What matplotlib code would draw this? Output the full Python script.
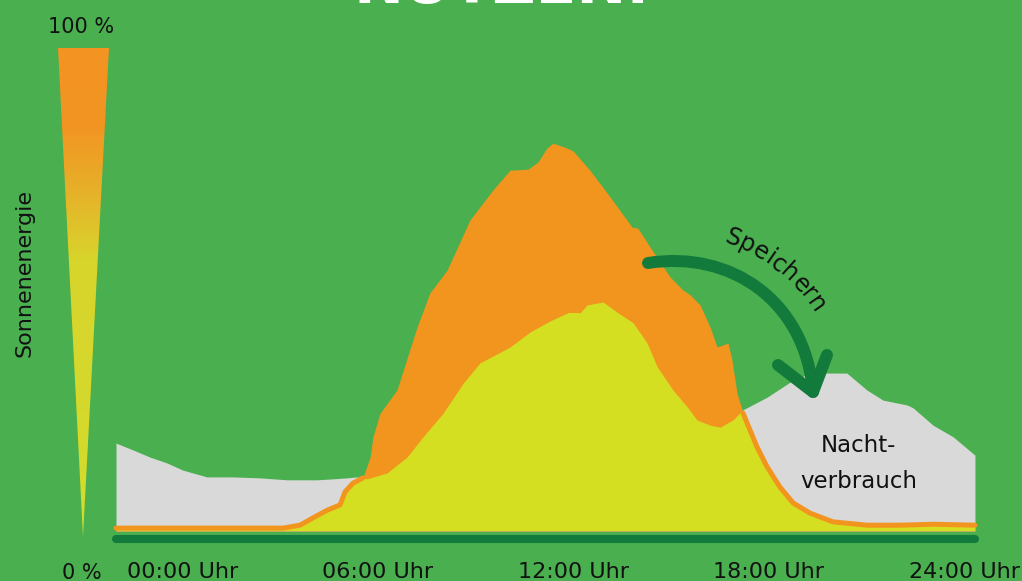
import numpy as np
import matplotlib
matplotlib.use("Agg")
import matplotlib.pyplot as plt
import matplotlib.transforms as mtransforms
from matplotlib.path import Path
from matplotlib.patches import PathPatch, Polygon
from matplotlib.colors import LinearSegmentedColormap
from matplotlib.font_manager import FontProperties

# ---------------- data ----------------
# Household consumption (grey at night, yellow part during the day), hours / %
cons_hours = [0.00, 0.47, 0.95, 1.42, 1.87, 2.35, 2.54, 3.27, 4.02, 4.78, 5.62,
              6.06, 6.45, 6.73, 7.01, 7.57, 8.13, 8.58, 9.14, 9.70, 10.17,
              11.01, 11.57, 12.13, 12.60, 12.96, 13.16, 13.61, 14.00, 14.45,
              14.84, 15.12, 15.56, 15.96, 16.23, 16.60, 16.88, 17.24, 17.52,
              18.19, 18.83, 19.39, 20.42, 20.98, 21.43, 22.10, 22.27, 22.83,
              23.39, 24.00]
consumption = [18.2, 16.8, 15.3, 14.1, 12.6, 11.6, 11.2, 11.2, 11.0, 10.6, 10.6,
               10.8, 11.0, 11.2, 10.8, 12.0, 15.3, 19.5, 24.4, 30.6, 34.8,
               38.1, 41.2, 43.5, 45.1, 45.1, 46.8, 47.4, 45.3, 43.1,
               38.9, 34.0, 29.2, 25.7, 23.0, 21.9, 21.5, 23.0, 25.1,
               27.7, 30.8, 32.7, 32.7, 29.2, 27.1, 26.1, 25.5, 21.9,
               19.5, 15.7]

# Solar production (orange), hours / %
prod_hours = [0.00, 4.67, 5.14, 5.50, 5.90, 6.26, 6.40, 6.62, 6.90, 7.10, 7.18,
              7.32, 7.38, 7.85, 8.41, 8.77, 9.25, 9.89, 10.53, 11.01, 11.51,
              11.79, 12.04, 12.21, 12.60, 12.77, 13.24, 13.80, 14.42, 14.58,
              14.92, 15.48, 15.84, 16.04, 16.32, 16.60, 16.79, 17.10, 17.21,
              17.35, 17.52, 17.63, 17.91, 18.19, 18.55, 18.92, 19.39, 20.03,
              20.98, 21.91, 22.83, 24.00]
production = [0.6, 0.6, 1.2, 2.7, 4.3, 5.4, 8.1, 9.9, 11.0, 15.3, 19.5,
              23.0, 24.4, 29.2, 42.2, 49.3, 54.0, 64.4, 70.6, 74.7, 74.9,
              76.4, 79.3, 80.3, 79.3, 78.7, 74.7, 69.2, 62.9, 62.7,
              58.8, 52.6, 49.9, 48.9, 46.8, 42.2, 38.1, 38.9, 35.4,
              28.6, 24.4, 22.4, 17.4, 13.3, 9.1, 5.8, 3.7, 1.9,
              1.2, 1.2, 1.4, 1.2]

tick_labels = ["00:00 Uhr", "06:00 Uhr", "12:00 Uhr", "18:00 Uhr", "24:00 Uhr"]
scale_labels = ["100 %", "0 %"]
y_title = "Sonnenenergie"
arrow_label = "Speichern"
night_label = ["Nacht-", "verbrauch"]
title = "NUTZEN."

# ---------------- style ----------------
BG = "#49AF4F"
GRAY = "#D9D9D9"
ORANGE = "#F2951F"
YELLOW = "#D5DF22"
DKGREEN = "#127A3B"
TXT = "#111111"
FONT = "DejaVu Sans"

W, H, DPI = 1022, 581, 100
fig = plt.figure(figsize=(W / DPI, H / DPI), dpi=DPI, facecolor=BG)
ax = fig.add_axes([0, 0, 1, 1])
ax.set_facecolor(BG)
ax.axis("off")

# map hours / percent to the picture area
X0, PXH = 116.0, 35.79     # px of 00:00, px per hour
Y0, PXV = 531.0, 4.83      # px of 0 %, px per percent
ax.set_xlim(-X0 / PXH, (W - X0) / PXH)
ax.set_ylim(-(H - Y0) / PXV, Y0 / PXV)

# pixel transform (y downwards) for decorations
pix = mtransforms.Affine2D().scale(1.0 / W, -1.0 / H).translate(0, 1) + fig.transFigure

hc = np.array(cons_hours)
c = np.array(consumption)
hp = np.array(prod_hours)
p = np.array(production)

gray = ax.fill_between(hc, 0, c, color=GRAY, lw=0, zorder=2)
orng = ax.fill_between(hp, 0, p, color=ORANGE, lw=0, zorder=3)
yel = ax.fill_between(hc, 0, c, color=YELLOW, lw=0, zorder=4)
yel.set_clip_path(orng.get_paths()[0], ax.transData)

# production line where it lies below consumption (night / morning / evening)
below = (hp <= 6.9) | (hp >= 17.52)
pl = np.where(below, p, np.nan)
ax.plot(hp, pl, color=ORANGE, lw=3.6, solid_capstyle="round",
        solid_joinstyle="round", zorder=5)

# base line
base_v = -(539 - Y0) / PXV
ax.plot([hc[0], hc[-1]], [base_v, base_v], color=DKGREEN, lw=5.8,
        solid_capstyle="round", zorder=6)

# ---------------- gradient triangle ----------------
tl, tr, tt, tb, tip = 58, 109, 48, 537, 83
ax_tri = fig.add_axes([tl / W, 1 - tb / H, (tr - tl) / W, (tb - tt) / H])
ax_tri.axis("off")
cmap = LinearSegmentedColormap.from_list(
    "sun", [(0.0, "#F39322"), (0.16, "#F29522"), (0.28, "#E8AE29"),
            (0.43, "#D8D42C"), (1.0, "#D3DD2C")])
grad = np.linspace(0, 1, 256).reshape(-1, 1)
im = ax_tri.imshow(grad, cmap=cmap, extent=(0, 1, 0, 1), aspect="auto",
                   origin="upper", interpolation="bilinear")
tri = Polygon([(0, 1), (1, 1), ((tip - tl) / (tr - tl), 0)],
              closed=True, transform=ax_tri.transData)
im.set_clip_path(tri)
ax_tri.set_xlim(0, 1)
ax_tri.set_ylim(0, 1)

# ---------------- texts ----------------
def ptext(x, y, s, **kw):
    kw.setdefault("color", TXT)
    kw.setdefault("family", FONT)
    return fig.text(x / W, 1 - y / H, s, **kw)

ptext(81, 33, scale_labels[0], ha="center", va="baseline", fontsize=15)
ptext(82, 579, scale_labels[1], ha="center", va="baseline", fontsize=15)
ptext(25, 273, y_title, ha="center", va="center", rotation=90, fontsize=16)

for i, lab in enumerate(tick_labels):
    ptext(182.5 + 195.4 * i, 578, lab, ha="center", va="baseline", fontsize=16)

ptext(858, 452, night_label[0], ha="center", va="baseline", fontsize=16.5)
ptext(859, 488, night_label[1], ha="center", va="baseline", fontsize=16.5)

ptext(502, 3, title, ha="center", va="baseline", fontsize=43,
      fontweight="bold", color="white")

# ---------------- arrow ----------------
verts = [(648, 263), (730, 250), (805, 300), (813, 392)]
codes = [Path.MOVETO, Path.CURVE4, Path.CURVE4, Path.CURVE4]
arc = PathPatch(Path(verts, codes), transform=pix, fill=False, lw=8.6,
                edgecolor=DKGREEN, capstyle="round", zorder=7)
fig.add_artist(arc)
head = plt.Line2D([778, 813, 827], [365, 392, 355], transform=pix,
                  color=DKGREEN, lw=8.6, solid_capstyle="round",
                  solid_joinstyle="round", zorder=7)
fig.add_artist(head)

# curved label along the arrow
fs = 17
fp = FontProperties(family=FONT, size=fs)
rend = fig.canvas.get_renderer()
widths = [rend.get_text_width_height_descent(ch, fp, ismath=False)[0]
          for ch in arrow_label]
cx, cy, rb = 667.0, H - 408.0, 175.0
theta_mid = np.radians(51.8)
total = sum(widths)
s = 0.0
for ch, w in zip(arrow_label, widths):
    sc = s + w / 2
    th = theta_mid + (total / 2 - sc) / rb
    x = cx + rb * np.cos(th)
    y = cy + rb * np.sin(th)
    fig.text(x / W, y / H, ch, ha="center", va="baseline",
             rotation=np.degrees(th) - 90, rotation_mode="anchor",
             fontproperties=fp, color=TXT)
    s += w

fig.savefig("out.png", dpi=DPI, facecolor=BG)
